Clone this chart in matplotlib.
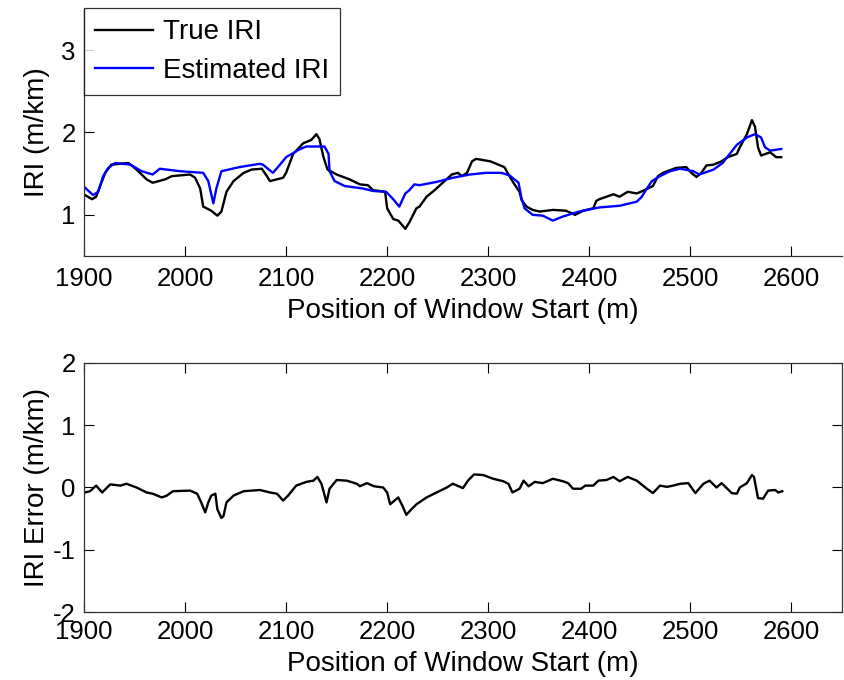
import matplotlib
matplotlib.use("Agg")
import matplotlib.pyplot as plt

plt.rcParams['font.family'] = ['Liberation Sans', 'DejaVu Sans']
plt.rcParams['axes.unicode_minus'] = False

# ---- data ----
true_x = [1901, 1908, 1912, 1916, 1921, 1927, 1944, 1952, 1962, 1968,
          1980, 1987, 2005, 2010, 2015, 2018, 2026, 2032, 2036, 2041,
          2048, 2058, 2066, 2076, 2081, 2084, 2097, 2100, 2107, 2117,
          2125, 2130, 2133, 2137, 2141, 2150, 2163, 2173, 2181, 2186,
          2198, 2200, 2206, 2211, 2218, 2222, 2229, 2232, 2239, 2247,
          2255, 2264, 2270, 2274, 2279, 2284, 2288, 2302, 2310, 2316,
          2321, 2326, 2331, 2333, 2338, 2344, 2351, 2364, 2377, 2386,
          2394, 2404, 2407, 2410, 2424, 2430, 2438, 2447, 2453, 2463,
          2468, 2473, 2486, 2496, 2501, 2506, 2511, 2516, 2523, 2531,
          2537, 2546, 2549, 2556, 2561, 2564, 2567, 2570, 2579, 2585,
          2590]
true_iri = [1.24, 1.19, 1.22, 1.35, 1.51, 1.61, 1.63, 1.55, 1.43, 1.39,
            1.43, 1.47, 1.49, 1.45, 1.32, 1.10, 1.05, 0.99, 1.04, 1.28,
            1.41, 1.51, 1.55, 1.56, 1.47, 1.41, 1.45, 1.51, 1.74, 1.87,
            1.91, 1.98, 1.92, 1.70, 1.55, 1.49, 1.43, 1.37, 1.36, 1.30,
            1.28, 1.08, 0.95, 0.93, 0.83, 0.91, 1.08, 1.10, 1.22, 1.30,
            1.39, 1.49, 1.51, 1.47, 1.51, 1.65, 1.68, 1.65, 1.61, 1.58,
            1.47, 1.37, 1.28, 1.18, 1.10, 1.06, 1.04, 1.06, 1.05, 1.00,
            1.05, 1.08, 1.17, 1.19, 1.25, 1.22, 1.28, 1.26, 1.29, 1.35,
            1.47, 1.51, 1.57, 1.58, 1.51, 1.46, 1.51, 1.60, 1.61, 1.65,
            1.70, 1.74, 1.82, 1.98, 2.15, 2.07, 1.82, 1.72, 1.76, 1.70,
            1.70]

est_x = [1901, 1909, 1914, 1919, 1924, 1931, 1946, 1957, 1968, 1975,
         1995, 2018, 2023, 2028, 2031, 2036, 2054, 2074, 2077, 2087,
         2094, 2100, 2114, 2120, 2138, 2142, 2143, 2148, 2158, 2176,
         2186, 2199, 2206, 2212, 2218, 2222, 2227, 2232, 2249, 2265,
         2282, 2298, 2313, 2321, 2330, 2333, 2336, 2344, 2354, 2364,
         2374, 2390, 2410, 2430, 2447, 2452, 2456, 2462, 2470, 2480,
         2490, 2503, 2509, 2523, 2532, 2539, 2546, 2556, 2564, 2570,
         2574, 2579, 2590]
est_iri = [1.33, 1.24, 1.28, 1.47, 1.57, 1.63, 1.61, 1.53, 1.49, 1.56,
           1.53, 1.51, 1.41, 1.14, 1.32, 1.53, 1.58, 1.62, 1.61, 1.51,
           1.61, 1.70, 1.80, 1.83, 1.83, 1.74, 1.53, 1.41, 1.35, 1.32,
           1.29, 1.28, 1.19, 1.10, 1.26, 1.30, 1.37, 1.36, 1.40, 1.45,
           1.49, 1.51, 1.51, 1.48, 1.39, 1.20, 1.08, 1.00, 0.99, 0.93,
           0.98, 1.04, 1.09, 1.11, 1.16, 1.22, 1.30, 1.41, 1.47, 1.53,
           1.56, 1.53, 1.49, 1.55, 1.63, 1.74, 1.85, 1.94, 1.98, 1.94,
           1.82, 1.78, 1.80]

err_x = [1901, 1906, 1912, 1918, 1926, 1936, 1942, 1952, 1962, 1968,
         1977, 1982, 1988, 2005, 2012, 2016, 2020, 2023, 2026, 2030,
         2032, 2036, 2038, 2041, 2048, 2058, 2074, 2084, 2091, 2097,
         2102, 2110, 2120, 2127, 2131, 2135, 2140, 2143, 2150, 2160,
         2170, 2173, 2180, 2187, 2196, 2200, 2203, 2211, 2215, 2219,
         2224, 2229, 2239, 2249, 2259, 2265, 2275, 2280, 2286, 2295,
         2305, 2315, 2320, 2324, 2331, 2335, 2340, 2346, 2354, 2364,
         2374, 2379, 2384, 2392, 2396, 2404, 2409, 2417, 2424, 2430,
         2438, 2447, 2457, 2463, 2470, 2477, 2483, 2490, 2498, 2505,
         2513, 2519, 2526, 2531, 2541, 2546, 2549, 2556, 2561, 2563,
         2567, 2572, 2577, 2584, 2587, 2591]
err_iri = [-0.08, -0.06, 0.03, -0.08, 0.05, 0.03, 0.06, 0.00, -0.08, -0.10,
           -0.16, -0.13, -0.06, -0.05, -0.10, -0.24, -0.40, -0.24, -0.13, -0.10,
           -0.35, -0.49, -0.46, -0.24, -0.13, -0.06, -0.04, -0.08, -0.10, -0.21,
           -0.13, 0.03, 0.09, 0.11, 0.17, 0.06, -0.24, -0.02, 0.12, 0.11,
           0.06, 0.02, 0.07, 0.02, 0.00, -0.08, -0.27, -0.16, -0.29, -0.44,
           -0.35, -0.27, -0.16, -0.08, 0.00, 0.06, -0.01, 0.11, 0.21, 0.20,
           0.14, 0.10, 0.06, -0.08, -0.02, 0.11, 0.02, 0.09, 0.07, 0.14,
           0.10, 0.07, -0.02, -0.02, 0.03, 0.03, 0.11, 0.12, 0.17, 0.10,
           0.17, 0.11, -0.02, -0.09, 0.03, 0.01, 0.03, 0.06, 0.07, -0.09,
           0.06, 0.11, 0.00, 0.07, -0.09, -0.10, 0.00, 0.07, 0.20, 0.17,
           -0.17, -0.18, -0.05, -0.04, -0.08, -0.06]

x_ticks = [1900, 2000, 2100, 2200, 2300, 2400, 2500, 2600]
top_yticks = [1, 2, 3]
bot_yticks = [-2, -1, 0, 1, 2]
xlabel = "Position of Window Start (m)"

TFS = 18.5   # tick labels
LFS = 20     # axis labels / legend
fig = plt.figure(figsize=(8.44, 6.8), dpi=100)
ax1 = fig.add_axes([0.0995, 0.6235, 0.898, 0.3633])
ax2 = fig.add_axes([0.0995, 0.1, 0.898, 0.3662])

ax1.plot(true_x, true_iri, color='black', lw=1.7, label='True IRI')
ax1.plot(est_x, est_iri, color='#0000ff', lw=1.7, label='Estimated IRI')
ax1.set_xlim(1900, 2650)
ax1.set_ylim(0.5, 3.5)
ax1.set_xticks(x_ticks)
ax1.set_yticks(top_yticks)
ax1.spines['top'].set_visible(False)
ax1.spines['right'].set_visible(False)
ax1.tick_params(direction='in', length=7, width=0.8, labelsize=TFS, pad=6)
ax1.tick_params(axis='x', pad=8)
ax1.set_xlabel(xlabel, fontsize=LFS, labelpad=5)
ax1.set_ylabel("IRI (m/km)", fontsize=LFS, labelpad=8)
leg = ax1.legend(loc='upper left', bbox_to_anchor=(0, 1.003), borderaxespad=0,
                 fontsize=LFS, frameon=True, fancybox=False, edgecolor='black',
                 handlelength=2.1, handletextpad=0.35, borderpad=0.4,
                 labelspacing=0.45)
leg.get_frame().set_linewidth(0.9)

ax2.plot(err_x, err_iri, color='black', lw=1.7)
ax2.set_xlim(1900, 2650)
ax2.set_ylim(-2, 2)
ax2.set_xticks(x_ticks)
ax2.set_yticks(bot_yticks)
ax2.tick_params(direction='in', length=7, width=0.8, labelsize=TFS, pad=6,
                top=True, right=True)
ax2.set_xlabel(xlabel, fontsize=LFS, labelpad=5)
ax2.set_ylabel("IRI Error (m/km)", fontsize=LFS, labelpad=2)

for ax in (ax1, ax2):
    for s in ax.spines.values():
        s.set_linewidth(0.9)
        s.set_color('#333333')

fig.savefig("out.png", dpi=100)
